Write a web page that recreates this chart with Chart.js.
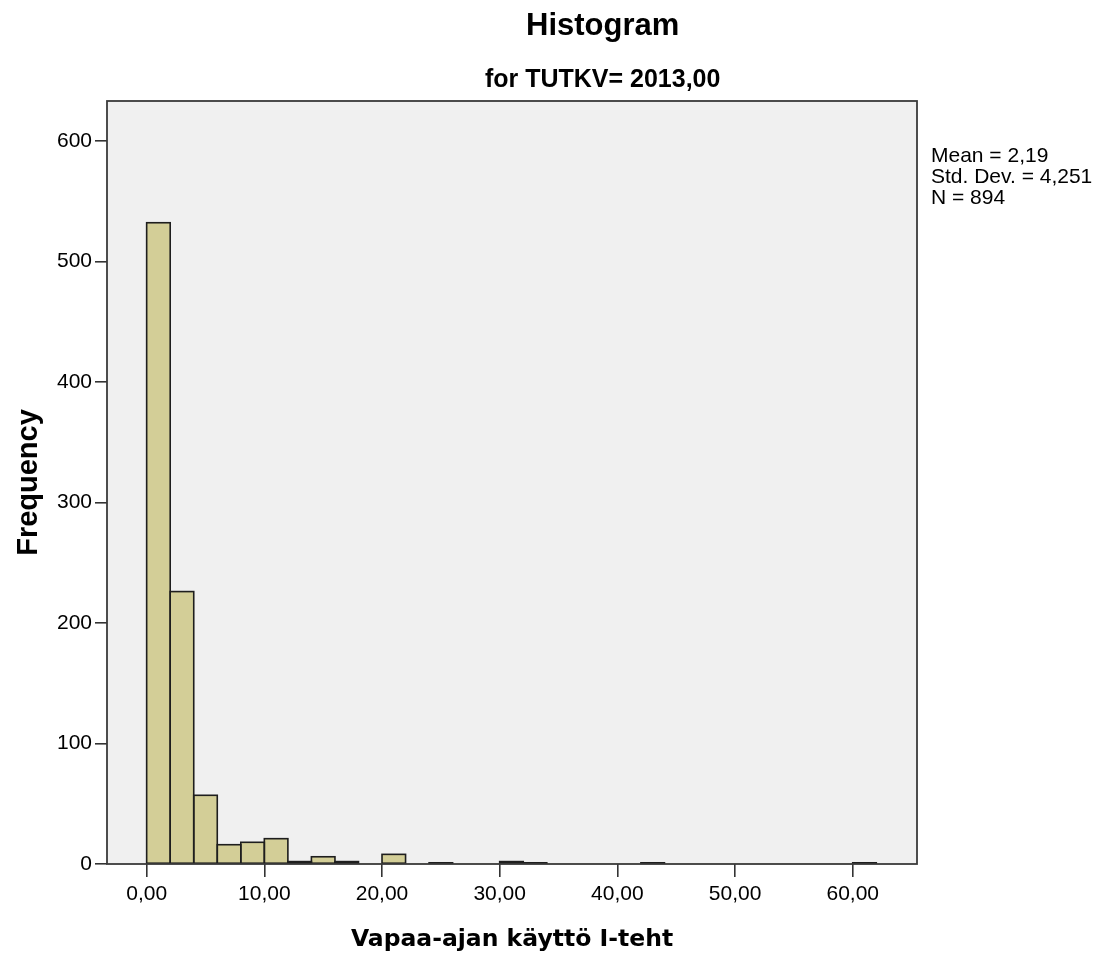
<!DOCTYPE html>
<html>
<head>
<meta charset="utf-8">
<title>Histogram</title>
<script src="https://cdn.jsdelivr.net/npm/chart.js@4/dist/chart.umd.min.js"></script>
<style>
  html, body { margin: 0; padding: 0; background: #ffffff; }
  #wrap { width: 1108px; height: 954px; position: relative; }
</style>
</head>
<body>
<div id="wrap"><canvas id="hist"></canvas></div>
<script>
// Histogram bins (lower edges) and their frequencies
const binStarts = [0, 2, 4, 6, 8, 10, 12, 14, 16, 18, 20, 22, 24, 26, 28, 30,
                   32, 34, 36, 38, 40, 42, 44, 46, 48, 50, 52, 54, 56, 58, 60];
const counts    = [532, 226, 57, 16, 18, 21, 2, 6, 2, 0, 8, 0, 1, 0, 0, 2,
                   1, 0, 0, 0, 0, 1, 0, 0, 0, 0, 0, 0, 0, 0, 1];
const binWidth = 2;

// Axis ticks
const xTickValues = [0, 10, 20, 30, 40, 50, 60];
const yTickValues = [0, 100, 200, 300, 400, 500, 600];

// Texts
const chartTitle = 'Histogram';
const chartSubtitle = 'for TUTKV= 2013,00';
const xAxisTitle = 'Vapaa-ajan käyttö I-teht';
const yAxisTitle = 'Frequency';
const statLines = ['Mean = 2,19', 'Std. Dev. = 4,251', 'N = 894'];

const fmtComma = v => v.toFixed(2).replace('.', ',');

const SANS = "'Liberation Sans', Arial, sans-serif";

// Plot panel, bar outlines, frame, titles and the statistics block
const spssFrame = {
  id: 'spssFrame',
  beforeDatasetsDraw(chart) {
    const {ctx, chartArea: a} = chart;
    ctx.save();
    ctx.fillStyle = '#f0f0f0';
    ctx.fillRect(a.left, a.top, a.right - a.left, a.bottom - a.top);
    ctx.restore();
  },
  afterDatasetsDraw(chart) {
    const {ctx, chartArea: a} = chart;
    ctx.save();
    // outlines centred on the bar edges, so that even one-case bins show as a dark dash
    ctx.strokeStyle = '#1e1e1e';
    ctx.lineWidth = 1.6;
    const meta = chart.getDatasetMeta(0);
    meta.data.forEach((bar, i) => {
      if (!(counts[i] > 0)) return;
      const p = bar.getProps(['x', 'y', 'base', 'width'], true);
      ctx.strokeRect(p.x - p.width / 2, p.y, p.width, p.base - p.y);
    });
    ctx.strokeStyle = '#3a3a3a';
    ctx.lineWidth = 1.8;
    ctx.strokeRect(a.left, a.top, a.right - a.left, a.bottom - a.top);
    ctx.restore();
  },
  afterDraw(chart) {
    const {ctx, chartArea: a} = chart;
    ctx.save();
    ctx.fillStyle = '#000';
    ctx.textBaseline = 'alphabetic';

    // statistics block to the right of the plot
    ctx.font = '21px ' + SANS;
    ctx.textAlign = 'left';
    const sx = a.right + 14;
    let widest = 0;
    statLines.forEach((t, i) => {
      ctx.fillText(t, sx, a.top + 61 + i * 21);
      widest = Math.max(widest, ctx.measureText(t).width);
    });

    // titles centred over the plot plus statistics block
    const cx = (a.left + sx + widest) / 2 + 3;
    ctx.textAlign = 'center';
    ctx.font = 'bold 31px ' + SANS;
    ctx.fillText(chartTitle, cx, 35);
    ctx.font = 'bold 25px ' + SANS;
    ctx.fillText(chartSubtitle, cx, 87);
    ctx.restore();
  }
};

const barData = binStarts.map((s, i) => ({ x: s + binWidth / 2, y: counts[i] }));

new Chart(document.getElementById('hist'), {
  type: 'bar',
  data: {
    datasets: [{
      data: barData,
      backgroundColor: '#d3ce97',
      borderWidth: 0,
      barPercentage: 1,
      categoryPercentage: 1
    }]
  },
  options: {
    responsive: true,
    maintainAspectRatio: false,
    animation: false,
    layout: { padding: { top: 101, right: 191, left: 0, bottom: 0 } },
    plugins: {
      legend: { display: false },
      title: { display: false },
      tooltip: { enabled: false }
    },
    scales: {
      x: {
        type: 'linear',
        min: -3.37,
        max: 65.46,
        offset: false,
        afterBuildTicks: s => { s.ticks = xTickValues.map(v => ({ value: v })); },
        afterFit: s => { s.height = 90; },
        grid: {
          offset: false,
          drawOnChartArea: false,
          drawTicks: true,
          tickLength: 13,
          color: '#333',
          lineWidth: 1.6
        },
        border: { display: false },
        ticks: {
          padding: 5,
          autoSkip: false,
          maxRotation: 0,
          color: '#000',
          font: { family: SANS, size: 21 },
          callback: v => fmtComma(v)
        },
        title: {
          display: true,
          text: xAxisTitle,
          color: '#000',
          font: { family: "'DejaVu Sans', Verdana, sans-serif", weight: 'bold', size: 23.5 },
          padding: { top: 0, bottom: 0 }
        }
      },
      y: {
        min: 0,
        max: 633,
        afterBuildTicks: s => { s.ticks = yTickValues.map(v => ({ value: v })); },
        afterFit: s => { s.width = 107; },
        grid: {
          drawOnChartArea: false,
          drawTicks: true,
          tickLength: 12,
          color: '#333',
          lineWidth: 1.6
        },
        border: { display: false },
        ticks: {
          padding: 3,
          color: '#000',
          font: { family: SANS, size: 21 }
        },
        title: {
          display: true,
          text: yAxisTitle,
          color: '#000',
          font: { family: SANS, weight: 'bold', size: 29 },
          padding: { top: 12, bottom: 0 }
        }
      }
    }
  },
  plugins: [spssFrame]
});
</script>
</body>
</html>
